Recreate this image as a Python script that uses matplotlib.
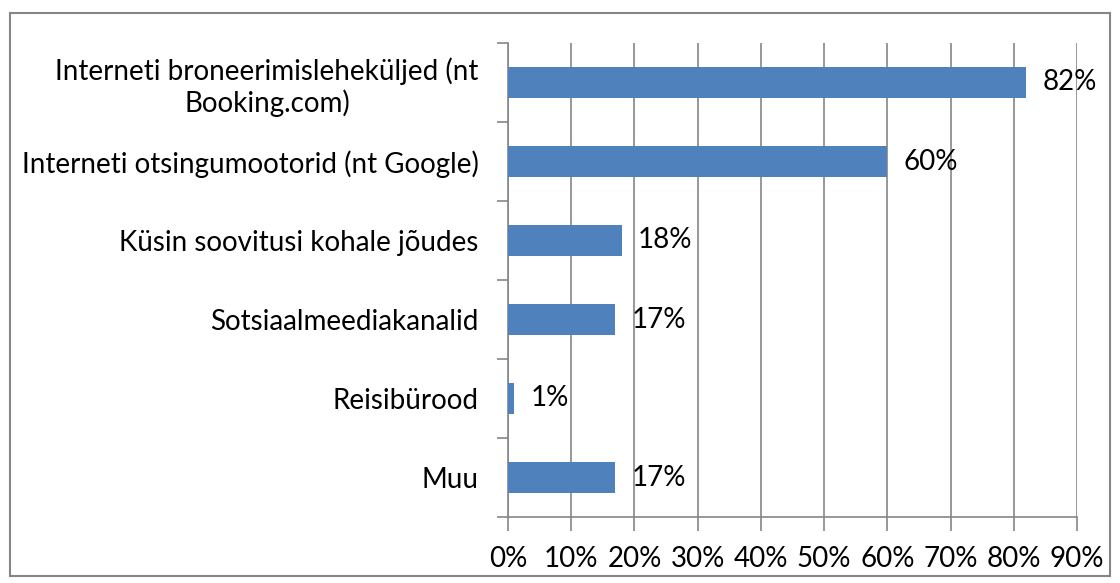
import matplotlib
matplotlib.use("Agg")
import matplotlib.pyplot as plt
from matplotlib.patches import Rectangle

categories = [
    "Interneti broneerimisleheküljed (nt\nBooking.com)",
    "Interneti otsingumootorid (nt Google)",
    "Küsin soovitusi kohale jõudes",
    "Sotsiaalmeediakanalid",
    "Reisibürood",
    "Muu",
]
values = [82, 60, 18, 17, 1, 17]
xticks = [0, 10, 20, 30, 40, 50, 60, 70, 80, 90]
xtick_labels = [f"{t}%" for t in xticks]

plt.rcParams['font.family'] = ['Lato', 'DejaVu Sans']
fs = 20

fig = plt.figure(figsize=(11.2, 5.83), dpi=100)
ax = fig.add_axes([508/1120, 1-517/583, (1077-508)/1120, (517-43)/583])

n = len(categories)
ypos = list(range(n))[::-1]
ax.barh(ypos, values, height=0.4, color="#4F81BD", zorder=3)
for y, v in zip(ypos, values):
    ax.annotate(f"{v}%", xy=(v, y), xytext=(16, 0), textcoords="offset pixels",
                ha="left", va="center", fontsize=fs, color="black", zorder=4)

ax.set_xlim(0, 90)
ax.set_ylim(-0.5, n - 0.5)
ax.set_xticks(xticks)
ax.set_xticklabels(xtick_labels, fontsize=fs)
ax.set_yticks(ypos)
ax.set_yticklabels(categories, fontsize=fs, ha="right", multialignment="center")
ax.set_yticks([i - 0.5 for i in range(n + 1)], minor=True)
ax.tick_params(axis="y", which="major", length=0, pad=21)
ax.tick_params(axis="y", which="minor", length=8, color="#868686", width=1.2)
ax.tick_params(axis="x", which="major", length=10, color="#868686", width=1.2, pad=11)
ax.grid(axis="x", color="#868686", linewidth=1.2, zorder=0)
for s in ["top", "right"]:
    ax.spines[s].set_visible(False)
for s in ["left", "bottom"]:
    ax.spines[s].set_color("#868686")
    ax.spines[s].set_linewidth(1.2)

fig.patches.append(Rectangle((10/1120, 1-576/583), 1100/1120, 563/583,
                             transform=fig.transFigure, fill=False,
                             edgecolor="#868686", linewidth=1.5))
fig.savefig("out.png", dpi=100)
